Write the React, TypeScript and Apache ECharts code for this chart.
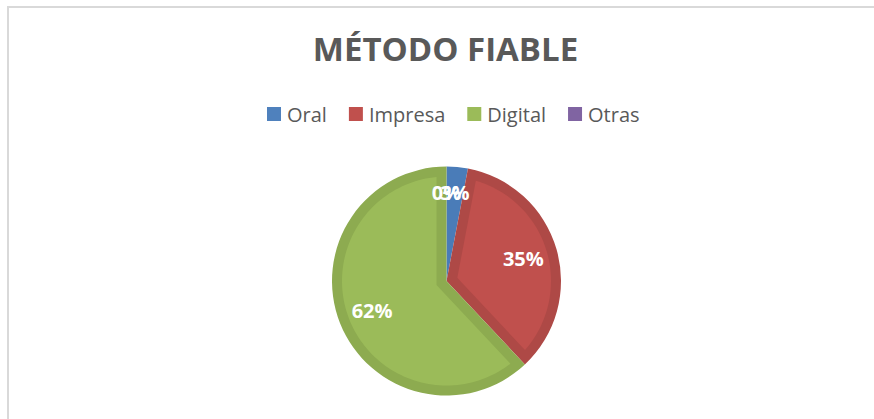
import React, { useEffect, useRef } from "react";
import * as echarts from "echarts";

const TITLE = "MÉTODO FIABLE";
const categories = ["Oral", "Impresa", "Digital", "Otras"];
const values = [3, 35, 62, 0];

const lightColors = ["#4F81BD", "#C0504D", "#9BBB59", "#8064A2"];
const darkColors = ["#4A7CB8", "#AE4946", "#8DAB50", "#76599A"];

const CX = 446.5;
const CY = 281;
const R = 114.5;
const INSET = 10;
const LABEL_R = 80;
const SMALL_LABEL_R = 89;

export default function App() {
  const ref = useRef<HTMLDivElement>(null);

  useEffect(() => {
    if (!ref.current) return;
    const chart = echarts.init(ref.current, null, { renderer: "svg" });
    const total = values.reduce((a, b) => a + b, 0);

    const renderInset = (params: any, api: any) => {
      const i = params.dataIndex;
      const v = api.value(0);
      let before = 0;
      for (let k = 0; k < i; k++) before += values[k];
      const a0 = (before / total) * Math.PI * 2;
      const a1 = a0 + (v / total) * Math.PI * 2;
      const sweep = a1 - a0;
      const children: any[] = [];
      const d = INSET;
      const r = R - d;
      const det = -Math.sin(sweep);
      if (sweep > 0 && Math.abs(det) > 1e-6) {
        const ax = (d * (-Math.sin(a1) - Math.sin(a0))) / det;
        const ay = (d * (Math.cos(a0) + Math.cos(a1))) / det;
        const off = Math.asin(d / r);
        const ts = a0 + off;
        const te = a1 - off;
        if (Math.hypot(ax, ay) < r - 1 && te > ts) {
          const pts: number[][] = [[CX + ax, CY + ay]];
          const n = Math.max(4, Math.ceil(((te - ts) / (Math.PI * 2)) * 180));
          for (let k = 0; k <= n; k++) {
            const t = ts + ((te - ts) * k) / n;
            pts.push([CX + r * Math.sin(t), CY - r * Math.cos(t)]);
          }
          children.push({
            type: "polygon",
            shape: { points: pts },
            style: { fill: lightColors[i], stroke: null },
            silent: true,
          });
        }
      }
      const mid = (a0 + a1) / 2;
      const lr = sweep < 0.3 ? SMALL_LABEL_R : LABEL_R;
      children.push({
        type: "text",
        x: CX + lr * Math.sin(mid),
        y: CY - lr * Math.cos(mid),
        z2: 10,
        style: {
          text: Math.round((v / total) * 100) + "%",
          fill: "#FFFFFF",
          font: 'bold 20px "Open Sans"',
          align: "center",
          verticalAlign: "middle",
        },
        silent: true,
      });
      return { type: "group", children };
    };

    chart.setOption({
      animation: false,
      graphic: [
        {
          type: "rect",
          shape: { x: 8, y: 7, width: 900, height: 500 },
          style: { fill: "none", stroke: "#D9D9D9", lineWidth: 2 },
          silent: true,
          z: 0,
        },
        {
          type: "text",
          x: 445.5,
          y: 48,
          style: {
            text: TITLE,
            fill: "#595959",
            font: 'bold 33px "Open Sans"',
            align: "center",
            verticalAlign: "middle",
          },
          z: 10,
        },
      ],
      legend: {
        left: 262,
        top: 99,
        itemWidth: 14,
        itemHeight: 14,
        itemGap: 22,
        icon: "rect",
        selectedMode: false,
        data: categories.map((name, i) => ({
          name,
          itemStyle: { color: lightColors[i] },
        })),
        textStyle: {
          color: "#595959",
          fontSize: 20,
          fontFamily: "Open Sans",
          padding: [0, 0, 0, 1],
        },
      },
      series: [
        {
          type: "pie",
          name: "base",
          center: [CX, CY],
          radius: [0, R],
          startAngle: 90,
          clockwise: true,
          silent: true,
          label: { show: false },
          labelLine: { show: false },
          itemStyle: { borderWidth: 0 },
          data: categories.map((name, i) => ({
            name,
            value: values[i],
            itemStyle: { color: darkColors[i] },
          })),
        },
        {
          type: "custom",
          name: "inset",
          coordinateSystem: "none",
          silent: true,
          renderItem: renderInset,
          data: values,
          z: 3,
        },
      ],
    });

    return () => chart.dispose();
  }, []);

  return (
    <div
      ref={ref}
      style={{ position: "absolute", left: 0, top: 0, width: 874, height: 419, background: "#FFFFFF" }}
    />
  );
}
